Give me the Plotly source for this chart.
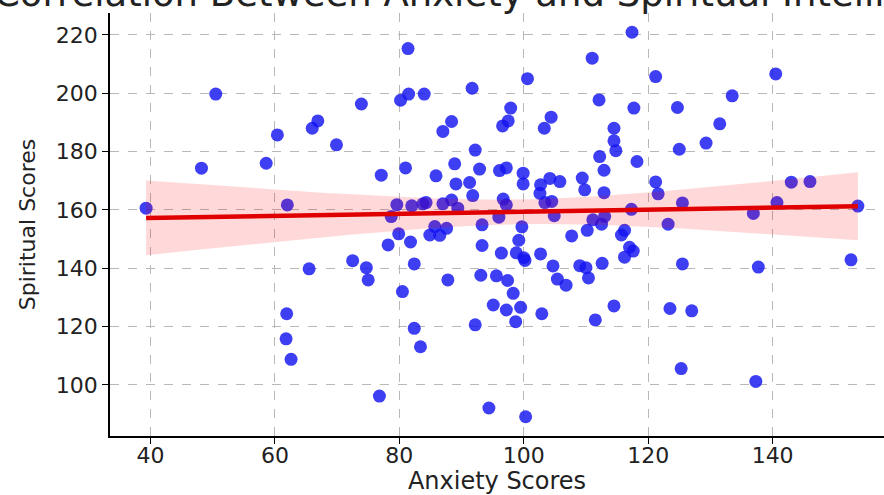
import numpy as np
import plotly.graph_objects as go

# ---- data ----
anxiety = [39.3, 48.2, 50.5, 58.6, 60.4, 62.0, 61.9, 61.8, 62.6, 65.5,
           66.0, 66.9, 69.9, 72.5, 73.9, 74.7, 75.0, 76.8, 77.1, 78.7,
           78.2, 79.6, 79.9, 80.2, 80.5, 81.0, 81.4, 81.5, 81.8, 82.0,
           82.4, 82.4, 83.4, 83.8, 84.0, 84.3, 84.9, 85.7, 85.9, 86.5,
           87.0, 87.0, 87.6, 87.8, 88.4, 88.4, 88.9, 89.1, 89.4, 91.3,
           91.7, 91.8, 92.2, 92.2, 92.9, 93.1, 93.3, 93.3, 94.4, 95.1,
           95.6, 96.0, 96.1, 96.4, 96.6, 96.7, 97.2, 97.2, 97.2, 97.4,
           97.5, 97.9, 98.3, 98.7, 98.8, 99.2, 99.5, 99.7, 99.9, 99.9,
           100.0, 100.2, 100.3, 100.6, 102.6, 102.7, 102.7, 102.9, 103.3, 103.4,
           104.2, 104.4, 104.5, 104.7, 104.9, 105.4, 105.8, 106.8, 107.7, 109.4,
           109.0, 109.8, 110.0, 110.2, 110.4, 111.0, 111.1, 111.5, 112.1, 112.2,
           112.5, 112.6, 112.9, 112.9, 113.0, 114.5, 114.5, 114.8, 114.5, 115.7,
           116.2, 116.2, 117.0, 117.6, 117.3, 117.4, 117.7, 118.2, 121.2, 121.2,
           121.6, 123.2, 123.5, 124.7, 125.0, 125.5, 125.5, 125.3, 127.0, 129.3,
           131.5, 133.5, 136.9, 137.3, 137.7, 140.5, 140.7, 143.0, 146.0, 152.6,
           153.7]
spiritual = [160.6, 174.3, 199.7, 176.0, 185.7, 161.7, 124.4, 115.8, 108.8, 139.8,
             188.0, 190.5, 182.3, 142.6, 196.3, 140.2, 136.0, 96.2, 171.9, 157.7,
             148.0, 161.8, 151.8, 197.6, 132.0, 174.4, 215.3, 199.7, 149.0, 161.4,
             141.5, 119.4, 113.1, 162.1, 199.7, 162.5, 151.4, 154.3, 171.7, 151.3,
             186.9, 162.1, 153.7, 136.0, 190.3, 163.4, 175.8, 168.9, 160.6, 169.4,
             201.7, 164.9, 180.5, 120.6, 174.0, 137.6, 154.9, 147.8, 92.1, 127.4,
             137.4, 157.5, 173.5, 145.2, 188.8, 163.7, 174.4, 161.7, 125.7, 135.8,
             190.5, 194.9, 131.4, 121.7, 145.3, 149.6, 126.6, 154.2, 172.6, 168.9,
             143.6, 142.7, 89.1, 205.0, 165.7, 168.6, 144.9, 124.4, 188.0, 162.5,
             170.8, 191.8, 162.9, 140.8, 158.0, 136.3, 169.7, 134.2, 151.1, 170.9,
             140.9, 166.9, 140.2, 153.0, 136.7, 212.0, 156.6, 122.3, 197.7, 178.3,
             155.1, 141.7, 173.6, 165.9, 157.8, 188.0, 183.7, 180.3, 127.1, 151.4,
             153.0, 143.8, 147.2, 145.9, 160.2, 220.9, 194.9, 176.6, 205.7, 169.6,
             165.5, 155.1, 126.2, 195.1, 180.8, 162.4, 141.5, 105.6, 125.4, 182.9,
             189.5, 199.1, 158.8, 101.2, 140.4, 206.6, 162.5, 169.5, 169.7, 142.9,
             161.3]
x_ticks = [40, 60, 80, 100, 120, 140]
y_ticks = [100, 120, 140, 160, 180, 200, 220]
title_text = "Correlation Between Anxiety and Spiritual Intelligence"
x_title = "Anxiety Scores"
y_title = "Spiritual Scores"

# ---- regression fit with 95% confidence band ----
x = np.array(anxiety, dtype=float)
y = np.array(spiritual, dtype=float)
n = len(x)
slope, intercept = np.polyfit(x, y, 1)
xs = np.linspace(x.min(), x.max(), 100)
yhat = intercept + slope * xs
resid = y - (intercept + slope * x)
s_err = np.sqrt(np.sum(resid ** 2) / (n - 2))
se = s_err * np.sqrt(1.0 / n + (xs - x.mean()) ** 2 / np.sum((x - x.mean()) ** 2))
tval = 1.976
upper = yhat + tval * se
lower = yhat - tval * se

fig = go.Figure()
fig.add_trace(go.Scatter(
    x=x, y=y, mode="markers",
    marker=dict(size=13, color="rgba(20,20,240,0.82)", line=dict(width=0)),
    showlegend=False, hoverinfo="skip"))
fig.add_trace(go.Scatter(
    x=np.concatenate([xs, xs[::-1]]), y=np.concatenate([upper, lower[::-1]]),
    fill="toself", fillcolor="rgba(255,0,0,0.15)", line=dict(width=0),
    mode="lines", showlegend=False, hoverinfo="skip"))
fig.add_trace(go.Scatter(
    x=xs, y=yhat, mode="lines", line=dict(color="#e00000", width=4.5),
    showlegend=False, hoverinfo="skip"))

font_family = "DejaVu Sans"
axis_common = dict(
    showline=True, linecolor="black", linewidth=1.5, mirror=False,
    ticks="outside", ticklen=6, tickwidth=1.2, tickcolor="black",
    showgrid=True, gridcolor="#b8b8b8", gridwidth=1, griddash="dash",
    zeroline=False, automargin=False,
    tickfont=dict(size=22, color="#222", family=font_family),
)
fig.update_xaxes(range=[33.5, 157.9], tickvals=x_ticks, ticklabelstandoff=-7,
                 title=dict(text=x_title, font=dict(size=24, color="#222", family=font_family), standoff=8),
                 **axis_common)
fig.update_yaxes(range=[82.5, 227.5], tickvals=y_ticks,
                 title=dict(text=y_title, font=dict(size=22, color="#222", family=font_family), standoff=14),
                 **axis_common)

fig.add_annotation(text=title_text, xref="paper", yref="paper",
                   x=(-8 - 110) / 774.0, y=1, xanchor="left", yanchor="bottom",
                   yshift=-4, showarrow=False,
                   font=dict(size=37, color="#222", family=font_family))

fig.update_layout(width=884, height=495, plot_bgcolor="white", paper_bgcolor="white",
                  margin=dict(l=110, r=0, t=13, b=59), font=dict(family=font_family))
fig.write_html("out.html", config={"displayModeBar": False},
               post_script="document.body.style.margin='0';document.body.style.overflow='hidden';")
